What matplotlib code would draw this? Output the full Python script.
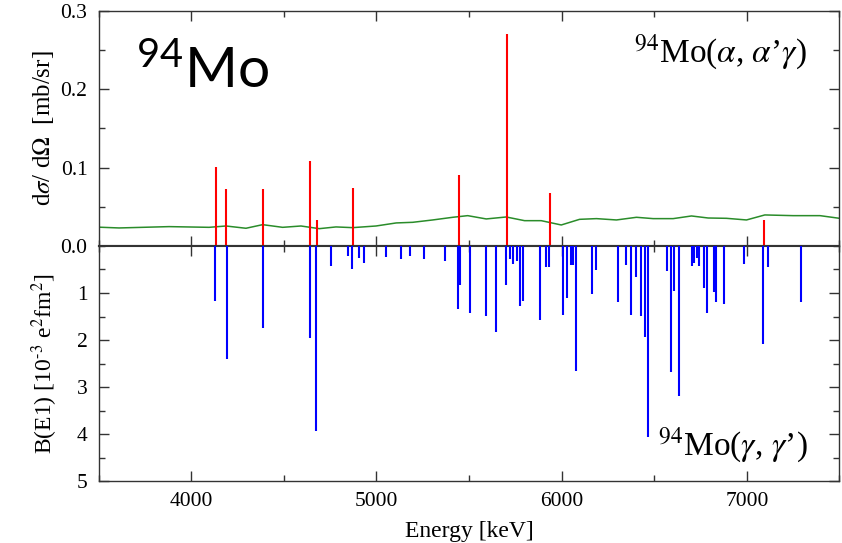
import matplotlib
matplotlib.use("Agg")
import matplotlib.pyplot as plt
from matplotlib.ticker import MultipleLocator

plt.rcParams['font.family'] = ['Liberation Serif', 'DejaVu Serif']
plt.rcParams['mathtext.fontset'] = 'stix'

# (alpha, alpha' gamma) cross sections [mb/sr]
alpha_energy = [4135, 4189, 4386, 4641, 4677, 4874, 5445, 5706, 5935, 7090]
alpha_sigma = [0.101, 0.073, 0.073, 0.108, 0.033, 0.074, 0.091, 0.271, 0.068, 0.033]

# sensitivity limit (green curve)
limit_energy = [3500, 3611, 3881, 4097, 4188, 4296, 4386, 4494, 4593, 4692, 4782, 4872,
                4998, 5107, 5196, 5304, 5412, 5493, 5593, 5701, 5800, 5890, 5998, 6097,
                6188, 6296, 6404, 6494, 6602, 6701, 6791, 6890, 6998, 7097, 7250, 7395, 7500]
limit_sigma = [0.024, 0.023, 0.0247, 0.0238, 0.0255, 0.0226, 0.0272, 0.0238, 0.0255, 0.0221,
               0.0243, 0.0234, 0.0255, 0.0294, 0.0302, 0.0332, 0.0366, 0.0387, 0.0345, 0.037,
               0.0323, 0.0323, 0.0268, 0.034, 0.0349, 0.0332, 0.0366, 0.0349, 0.0349, 0.0383,
               0.0357, 0.0353, 0.0332, 0.0396, 0.0387, 0.0387, 0.0353]

# (gamma, gamma') B(E1) strengths [1e-3 e^2 fm^2]
gamma_energy = [4131, 4195, 4386, 4640, 4672, 4757, 4847, 4867, 4906, 4933, 5050, 5135,
                5184, 5258, 5373, 5438, 5454, 5504, 5593, 5647, 5699, 5719, 5735, 5758,
                5778, 5791, 5885, 5914, 5930, 6007, 6029, 6052, 6060, 6077, 6162, 6184,
                6304, 6350, 6375, 6400, 6427, 6449, 6467, 6568, 6591, 6609, 6631, 6706,
                6714, 6731, 6738, 6744, 6766, 6784, 6820, 6834, 6876, 6987, 7086, 7114, 7292]
gamma_be1 = [1.18, 2.40, 1.74, 1.95, 3.94, 0.43, 0.22, 0.50, 0.26, 0.37, 0.23, 0.28,
             0.22, 0.28, 0.31, 1.35, 0.84, 1.43, 1.48, 1.82, 0.82, 0.28, 0.39, 0.31,
             1.28, 1.16, 1.57, 0.44, 0.44, 1.47, 1.11, 0.40, 0.40, 2.65, 1.02, 0.51,
             1.19, 0.40, 1.46, 0.65, 1.48, 1.94, 4.07, 0.54, 2.69, 0.96, 3.18, 0.42,
             0.37, 0.26, 0.26, 0.43, 0.89, 1.42, 0.97, 1.19, 1.23, 0.39, 2.08, 0.45, 1.19]

fig = plt.figure(figsize=(8.42, 5.43), dpi=100)
ax1 = fig.add_axes([0.117, 0.547, 0.880, 0.433])
ax2 = fig.add_axes([0.117, 0.114, 0.880, 0.433], sharex=ax1)

# top panel
ax1.plot(limit_energy, limit_sigma, color='#2a8c2a', lw=1.1, zorder=2)
ax1.vlines(alpha_energy, 0, alpha_sigma, color='red', lw=1.5, zorder=3)
ax1.set_ylim(0, 0.3)
ax1.set_xlim(3500, 7500)
ax1.set_yticks([0.0, 0.1, 0.2, 0.3])
ax1.set_yticklabels(['0.0', '0.1', '0.2', '0.3'])
ax1.yaxis.set_minor_locator(MultipleLocator(0.05))
ax1.set_ylabel(r'd$\sigma$/ d$\Omega$  [mb/sr]', fontsize=18, labelpad=3)
ax1.tick_params(axis='x', labelbottom=False)

ax1.text(0.956, 0.783, r"$^{94}$Mo($\alpha$, $\alpha$’$\gamma$)", transform=ax1.transAxes,
         ha='right', va='baseline', fontsize=24)
ax1.text(0.05, 0.67, r"$\mathregular{^{94}Mo}$", transform=ax1.transAxes,
         ha='left', va='baseline', fontsize=41, family='Lato')

# bottom panel
ax2.vlines(gamma_energy, 0, gamma_be1, color='blue', lw=1.5, zorder=3)
ax2.set_ylim(5, 0)
ax2.set_yticks([1, 2, 3, 4, 5])
ax2.yaxis.set_minor_locator(MultipleLocator(0.5))
ax2.xaxis.set_major_locator(MultipleLocator(1000))
ax2.xaxis.set_minor_locator(MultipleLocator(500))
ax2.set_ylabel(r'B(E1) [10$^{\text{-}3}$ e$^{2}$fm$^{2}$]', fontsize=17, labelpad=12)
ax2.set_xlabel('Energy [keV]', fontsize=17, labelpad=7)

ax2.text(0.957, 0.111, r"$^{94}$Mo($\gamma$, $\gamma$’)", transform=ax2.transAxes,
         ha='right', va='baseline', fontsize=24)

for ax in (ax1, ax2):
    ax.tick_params(which='both', direction='in', top=True, right=True,
                   labelsize=15.5, color='#333333', pad=8)
    ax.tick_params(which='major', length=7, width=1)
    ax.tick_params(which='minor', length=4, width=1)
    for s in ax.spines.values():
        s.set_color('#333333')
        s.set_linewidth(1.0)

ax1.spines['bottom'].set_linewidth(1.5)
ax2.spines['top'].set_linewidth(1.5)

fig.savefig('out.png', dpi=100)
